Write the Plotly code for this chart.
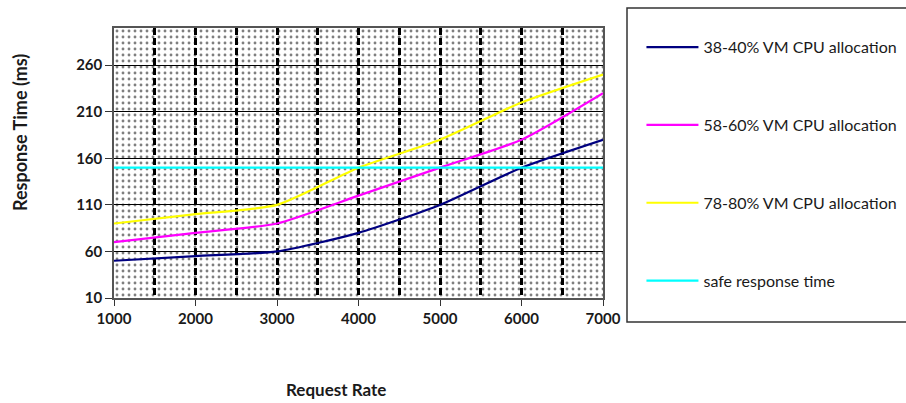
import plotly.graph_objects as go

request_rate = [1000, 2000, 3000, 4000, 5000, 6000, 7000]
cpu_38_40 = [50, 55, 60, 80, 110, 150, 180]
cpu_58_60 = [70, 80, 90, 120, 150, 180, 230]
cpu_78_80 = [90, 100, 110, 150, 180, 220, 250]
safe_response = [150, 150, 150, 150, 150, 150, 150]

series_names = ["38-40% VM CPU allocation", "58-60% VM CPU allocation",
                "78-80% VM CPU allocation", "safe response time"]
series_colors = ["#000080", "#FF00FF", "#FFFF00", "#00FFFF"]

X_RANGE = [1000, 7000]
Y_RANGE = [10, 300]

FONT = "Lato"
TXT = "#1a1a1a"

fig = go.Figure()

# dotted background of plot area
fig.add_trace(go.Scatter(
    x=[X_RANGE[0], X_RANGE[1], X_RANGE[1], X_RANGE[0], X_RANGE[0]],
    y=[Y_RANGE[0], Y_RANGE[0], Y_RANGE[1], Y_RANGE[1], Y_RANGE[0]],
    mode="none", fill="toself", fillcolor="rgba(0,0,0,0)",
    fillpattern=dict(shape=".", fgcolor="black", bgcolor="rgba(0,0,0,0)",
                     size=6, solidity=0.18),
    showlegend=False, hoverinfo="skip"))

for name, vals, col in zip(series_names,
                           [cpu_38_40, cpu_58_60, cpu_78_80, safe_response],
                           series_colors):
    fig.add_trace(go.Scatter(
        x=request_rate, y=vals, name=name, mode="lines",
        line=dict(color=col, width=2.2, shape="spline", smoothing=0.6),
        legendgroup=name))

DASH = "7px,3px"

fig.update_layout(
    width=906, height=403,
    margin=dict(l=114, r=303, t=28, b=105),
    paper_bgcolor="white", plot_bgcolor="white",
    font=dict(family=FONT, color=TXT),
    showlegend=True,
    legend=dict(xref="container", yref="container", x=0.708, y=0.925,
                xanchor="left", yanchor="top", maxheight=1,
                bgcolor="rgba(0,0,0,0)", borderwidth=0,
                font=dict(family=FONT, size=16, color=TXT),
                tracegroupgap=54, itemwidth=52),
    xaxis=dict(range=X_RANGE, tickvals=request_rate, ticks="outside",
               ticklen=6, tickcolor="#333333",
               tickfont=dict(family=FONT, size=15, weight="bold", color=TXT),
               showgrid=True, gridcolor="black", gridwidth=2.5, griddash=DASH,
               minor=dict(dtick=500, tick0=1000, showgrid=True, gridcolor="black",
                          gridwidth=2.5, griddash=DASH, ticks=""),
               showline=True, linecolor="#555555", linewidth=1.5, mirror=True,
               zeroline=False, fixedrange=True),
    yaxis=dict(range=Y_RANGE, tick0=10, dtick=50, ticks="outside",
               ticklen=7, tickcolor="#333333",
               tickfont=dict(family=FONT, size=15, weight="bold", color=TXT),
               showgrid=True, gridcolor="black", gridwidth=1,
               showline=True, linecolor="#555555", linewidth=1.5, mirror=True,
               zeroline=False, fixedrange=True),
    annotations=[
        dict(text="<b>Request Rate</b>", xref="paper", yref="paper",
             x=(336 - 114) / 489, y=-(389 - 298) / 270,
             xanchor="center", yanchor="middle", showarrow=False,
             font=dict(family=FONT, size=17, color=TXT)),
        dict(text="<b>Response Time (ms)</b>", xref="paper", yref="paper",
             x=-(114 - 20) / 489, y=(298 - 133) / 270, textangle=-90,
             xanchor="center", yanchor="middle", showarrow=False,
             font=dict(family=FONT, size=18, color=TXT)),
    ],
    shapes=[dict(type="rect", xref="paper", yref="paper",
                 x0=(627 - 114) / 489, x1=(910 - 114) / 489,
                 y0=-(322 - 298) / 270, y1=1 + (28 - 8) / 270,
                 line=dict(color="#333333", width=1.5), fillcolor="rgba(0,0,0,0)")],
)

fig.write_html("out.html")
